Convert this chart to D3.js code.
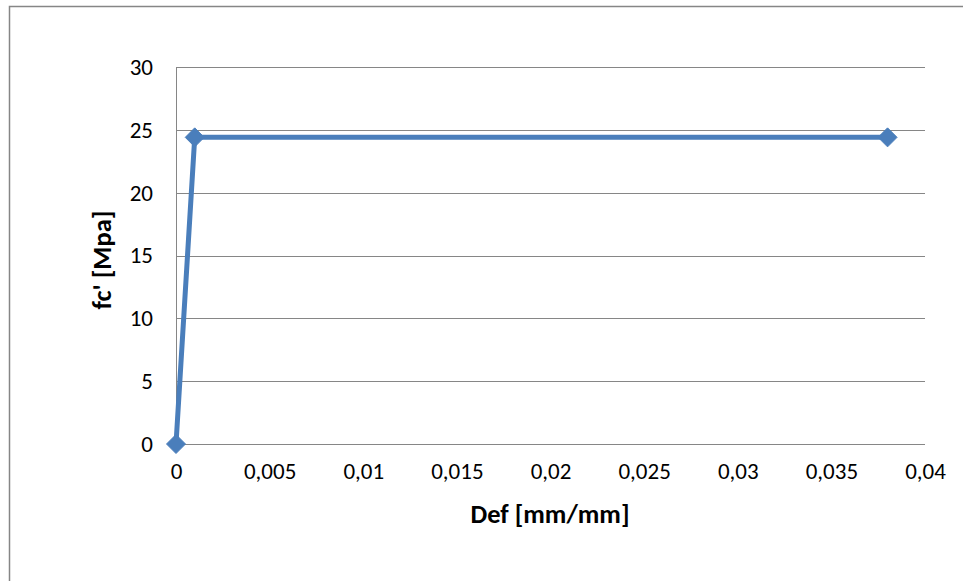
<!DOCTYPE html>
<html>
<head>
<meta charset="utf-8">
<script src="https://cdn.jsdelivr.net/npm/d3@7"></script>
<style>
  html, body { margin: 0; padding: 0; background: #fff; }
  svg { display: block; }
  text { font-family: Carlito, "Open Sans", "Liberation Sans", sans-serif; fill: #000; }
</style>
</head>
<body>
<script>
// Stress-strain curve of concrete
const strain = [0, 0.001, 0.038];
const stress = [0, 24.4, 24.4];
const xTicks = [0, 0.005, 0.01, 0.015, 0.02, 0.025, 0.03, 0.035, 0.04];
const yTicks = [0, 5, 10, 15, 20, 25, 30];
const xTitle = "Def [mm/mm]";
const yTitle = "fc' [Mpa]";

const W = 963, H = 581;
const FONT = 'Carlito, "Open Sans", "Liberation Sans", sans-serif';
const svg = d3.select("body").append("svg").attr("width", W).attr("height", H);

// outer chart frame
svg.append("rect")
  .attr("x", 9.5).attr("y", 6.5)
  .attr("width", 1000).attr("height", 1000)
  .attr("fill", "none").attr("stroke", "#868686").attr("stroke-width", 1.5);

const x = d3.scaleLinear().domain([0, 0.04]).range([176, 925]);
const y = d3.scaleLinear().domain([0, 30]).range([444, 67]);

const fmt = d => d === 0 ? "0" : String(d).replace(".", ",");

// horizontal gridlines
svg.append("g").selectAll("line").data(yTicks).join("line")
  .attr("x1", x(0)).attr("x2", x(0.04))
  .attr("y1", d => Math.round(y(d)) + 0.5).attr("y2", d => Math.round(y(d)) + 0.5)
  .attr("stroke", "#868686").attr("stroke-width", 1);

// vertical axis line
svg.append("line")
  .attr("x1", x(0) + 0.5).attr("x2", x(0) + 0.5)
  .attr("y1", y(30)).attr("y2", y(0))
  .attr("stroke", "#868686").attr("stroke-width", 1);

// y tick labels
const yAxis = d3.axisLeft(y).tickValues(yTicks).tickSize(0).tickPadding(23).tickFormat(fmt);
const gy = svg.append("g").attr("transform", `translate(${x(0)},0)`).call(yAxis);
gy.select(".domain").remove();
gy.selectAll("text").attr("font-size", 23).style("font-family", FONT);

// x tick labels
const xAxis = d3.axisBottom(x).tickValues(xTicks).tickSize(0).tickPadding(19).tickFormat(fmt);
const gx = svg.append("g").attr("transform", `translate(0,${y(0)})`).call(xAxis);
gx.select(".domain").remove();
gx.selectAll("text").attr("font-size", 23).style("font-family", FONT);

// axis titles
svg.append("text")
  .attr("x", 550).attr("y", 523)
  .attr("text-anchor", "middle")
  .attr("font-size", 26.5).attr("font-weight", "bold")
  .text(xTitle);

svg.append("text")
  .attr("transform", "translate(111,260) rotate(-90)")
  .attr("text-anchor", "middle")
  .attr("font-size", 26.5).attr("font-weight", "bold")
  .text(yTitle);

// data series
const pts = strain.map((s, i) => [s, stress[i]]);
svg.append("path")
  .datum(pts)
  .attr("d", d3.line().x(d => x(d[0])).y(d => y(d[1])))
  .attr("fill", "none")
  .attr("stroke", "#4A7EBB")
  .attr("stroke-width", 5)
  .attr("stroke-linejoin", "round");

const r = 9.5;
svg.append("g").selectAll("path").data(pts).join("path")
  .attr("transform", d => `translate(${x(d[0])},${y(d[1])})`)
  .attr("d", `M0,${-r}L${r},0L0,${r}L${-r},0Z`)
  .attr("fill", "#4A7EBB")
  .attr("stroke", "#4A7EBB")
  .attr("stroke-width", 1);
</script>
</body>
</html>
